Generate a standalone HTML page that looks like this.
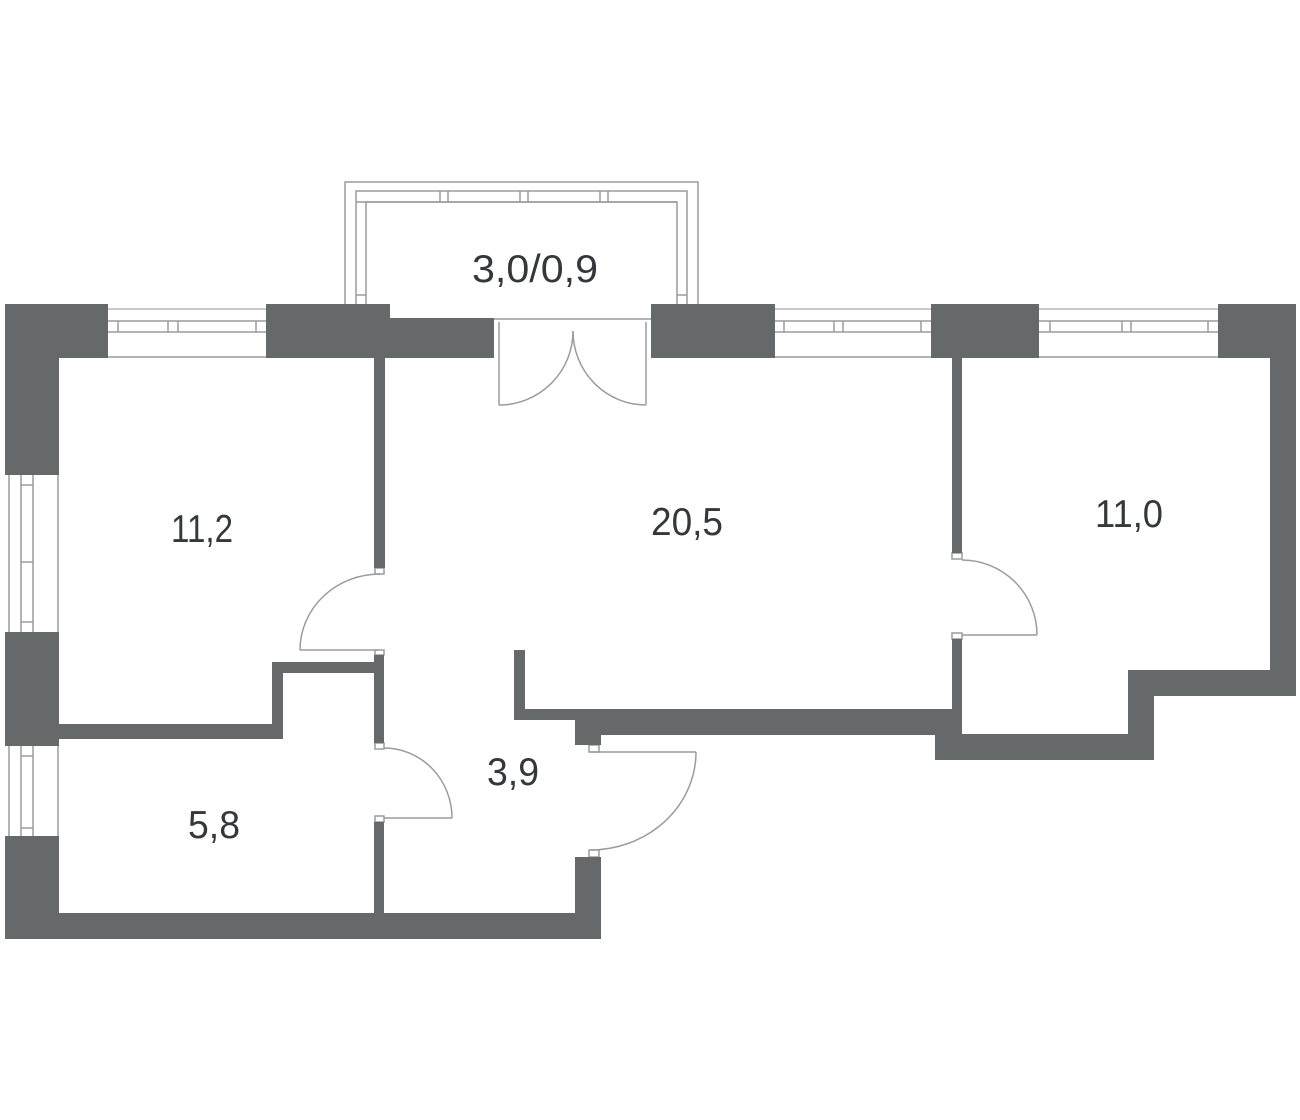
<!DOCTYPE html>
<html><head><meta charset="utf-8"><style>
html,body{margin:0;padding:0;background:#fff;}
svg{display:block}
text{font-family:"Liberation Sans",sans-serif;fill:#34383b;font-size:39px;}
</style></head><body>
<svg width="1300" height="1120" viewBox="0 0 1300 1120" xmlns="http://www.w3.org/2000/svg">
<g fill="none" stroke="#9a9c9e" stroke-width="1.5">
  <polyline points="345,304 345,182 698,182 698,304"/>
  <polyline points="356,304 356,191 687,191 687,304"/>
  <polyline points="366,304 366,202 677,202 677,304"/>
  <line x1="356" y1="202" x2="677" y2="202"/>
  <line x1="440" y1="191" x2="440" y2="202"/><line x1="448" y1="191" x2="448" y2="202"/>
  <line x1="520" y1="191" x2="520" y2="202"/><line x1="528" y1="191" x2="528" y2="202"/>
  <line x1="600" y1="191" x2="600" y2="202"/><line x1="608" y1="191" x2="608" y2="202"/>
  <line x1="356" y1="295" x2="366" y2="295"/><line x1="677" y1="295" x2="687" y2="295"/>
  <line x1="494" y1="319" x2="651" y2="319"/>
  <g>
    <line x1="108" y1="309" x2="266" y2="309" stroke="#c8c9ca" stroke-width="2"/>
    <line x1="774" y1="309" x2="932" y2="309" stroke="#c8c9ca" stroke-width="2"/>
    <line x1="1038" y1="309" x2="1218" y2="309" stroke="#c8c9ca" stroke-width="2"/>
    <line x1="108" y1="321" x2="266" y2="321"/><line x1="108" y1="332" x2="266" y2="332"/><line x1="108" y1="357" x2="266" y2="357"/>
    <line x1="118" y1="321" x2="118" y2="332"/><line x1="168" y1="321" x2="168" y2="332"/><line x1="178" y1="321" x2="178" y2="332"/><line x1="256" y1="321" x2="256" y2="332"/>
    <line x1="774" y1="321" x2="932" y2="321"/><line x1="774" y1="332" x2="932" y2="332"/><line x1="774" y1="357" x2="932" y2="357"/>
    <line x1="784" y1="321" x2="784" y2="332"/><line x1="834" y1="321" x2="834" y2="332"/><line x1="843" y1="321" x2="843" y2="332"/><line x1="921" y1="321" x2="921" y2="332"/>
    <line x1="1038" y1="321" x2="1218" y2="321"/><line x1="1038" y1="332" x2="1218" y2="332"/><line x1="1038" y1="357" x2="1218" y2="357"/>
    <line x1="1050" y1="321" x2="1050" y2="332"/><line x1="1122" y1="321" x2="1122" y2="332"/><line x1="1131" y1="321" x2="1131" y2="332"/><line x1="1208" y1="321" x2="1208" y2="332"/>
  </g>
  <g>
    <line x1="9" y1="475" x2="9" y2="632"/><line x1="21" y1="475" x2="21" y2="632"/><line x1="33" y1="475" x2="33" y2="632"/><line x1="58" y1="475" x2="58" y2="632"/>
    <line x1="21" y1="485" x2="33" y2="485"/><line x1="21" y1="562" x2="33" y2="562"/><line x1="21" y1="622" x2="33" y2="622"/>
    <line x1="9" y1="746" x2="9" y2="836"/><line x1="21" y1="746" x2="21" y2="836"/><line x1="33" y1="746" x2="33" y2="836"/><line x1="58" y1="746" x2="58" y2="836"/>
    <line x1="21" y1="756" x2="33" y2="756"/><line x1="21" y1="828" x2="33" y2="828"/>
  </g>
  <line x1="499" y1="322" x2="499" y2="405"/><path d="M499,405 A74,74 0 0 0 573,331"/>
  <line x1="646" y1="322" x2="646" y2="405"/><path d="M646,405 A73,74 0 0 1 573,331"/>
  <line x1="300" y1="650" x2="378" y2="650"/><path d="M380,574 A80,76 0 0 0 300,650"/>
  <line x1="962" y1="635" x2="1037" y2="635"/><path d="M962,560 A75,75 0 0 1 1037,635"/>
  <line x1="384" y1="818" x2="452" y2="818"/><path d="M384,748 A68,70 0 0 1 452,818"/>
  <line x1="590" y1="752" x2="696" y2="752"/><path d="M696,752 A106,98 0 0 1 590,850"/>
  <rect x="375" y="568" width="9" height="6"/><rect x="375" y="650" width="9" height="5"/>
  <rect x="375" y="743" width="9" height="6"/><rect x="375" y="816" width="9" height="6"/>
  <rect x="952" y="553" width="10" height="6"/><rect x="952" y="633" width="10" height="6"/>
  <rect x="589" y="745" width="10" height="7"/><rect x="589" y="850" width="10" height="7"/>
</g>
<g fill="#66696a">
  <rect x="5" y="304" width="103" height="54"/>
  <rect x="5" y="304" width="54" height="171"/>
  <rect x="266" y="304" width="124" height="54"/>
  <rect x="390" y="318" width="104" height="40"/>
  <rect x="651" y="304" width="124" height="54"/>
  <rect x="931" y="304" width="108" height="54"/>
  <rect x="1218" y="304" width="78" height="54"/>
  <rect x="1270" y="304" width="26" height="392"/>
  <rect x="1128" y="670" width="168" height="26"/>
  <rect x="1128" y="670" width="26" height="90"/>
  <rect x="935" y="734" width="219" height="26"/>
  <rect x="935" y="709" width="27" height="51"/>
  <rect x="952" y="358" width="10" height="195"/>
  <rect x="952" y="639" width="10" height="95"/>
  <rect x="575" y="709" width="377" height="26"/>
  <rect x="514" y="709" width="61" height="11"/>
  <rect x="514" y="650" width="11" height="70"/>
  <rect x="575" y="709" width="26" height="36"/>
  <rect x="374" y="358" width="11" height="210"/>
  <rect x="5" y="632" width="54" height="114"/>
  <rect x="5" y="836" width="54" height="103"/>
  <rect x="5" y="913" width="596" height="26"/>
  <rect x="575" y="857" width="26" height="82"/>
  <rect x="59" y="724" width="223" height="15"/>
  <rect x="272" y="662" width="11" height="77"/>
  <rect x="272" y="662" width="111" height="11"/>
  <rect x="374" y="655" width="10" height="88"/>
  <rect x="374" y="822" width="10" height="91"/>
</g>
<text x="472" y="282" textLength="126" lengthAdjust="spacingAndGlyphs">3,0/0,9</text>
<text x="171" y="542" textLength="62" lengthAdjust="spacingAndGlyphs">11,2</text>
<text x="651" y="535" textLength="72" lengthAdjust="spacingAndGlyphs">20,5</text>
<text x="1095" y="527" textLength="68" lengthAdjust="spacingAndGlyphs">11,0</text>
<text x="188" y="838" textLength="52" lengthAdjust="spacingAndGlyphs">5,8</text>
<text x="487" y="785" textLength="52" lengthAdjust="spacingAndGlyphs">3,9</text>
</svg>
</body></html>
